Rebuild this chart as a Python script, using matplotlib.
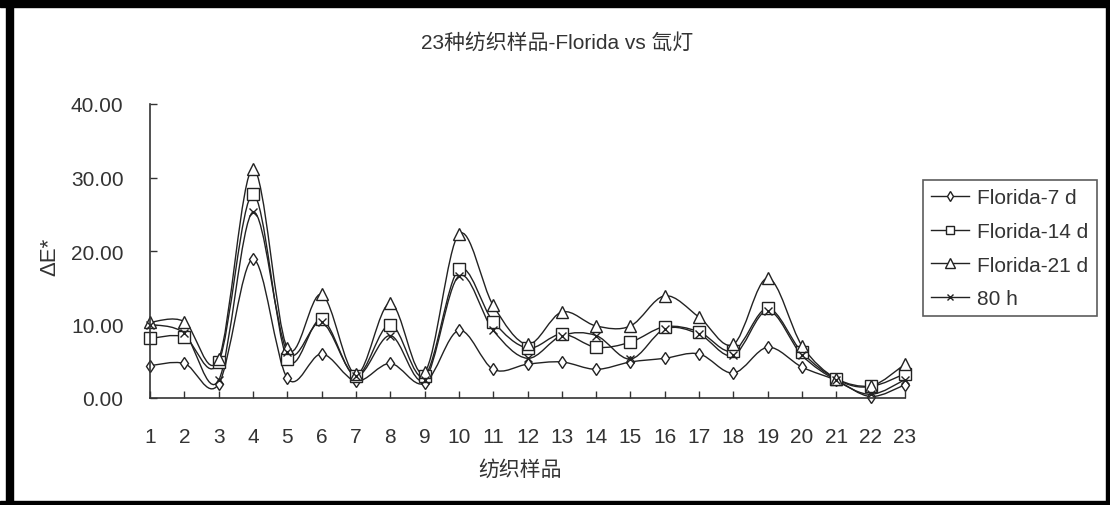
import numpy as np
import matplotlib
matplotlib.use("Agg")
import matplotlib.pyplot as plt
from matplotlib.path import Path
from matplotlib.patches import PathPatch, Rectangle

plt.rcParams['font.family'] = ['Liberation Sans', 'Noto Sans CJK SC']

# data
samples = list(range(1, 24))
florida_7d = [4.4, 4.7, 1.9, 18.9, 2.7, 6.0, 2.3, 4.7, 2.0, 9.2, 3.9, 4.6,
              4.9, 3.9, 4.9, 5.4, 6.0, 3.4, 6.9, 4.2, 2.4, 0.2, 1.8]
florida_14d = [8.1, 8.3, 4.9, 27.7, 5.3, 10.7, 3.0, 10.0, 3.0, 17.5, 10.4, 6.8,
               8.7, 6.9, 7.6, 9.7, 9.0, 6.4, 12.2, 6.2, 2.6, 1.6, 3.3]
florida_21d = [10.3, 10.4, 5.3, 31.2, 6.8, 14.1, 3.2, 12.9, 3.5, 22.3, 12.6, 7.3,
               11.7, 9.8, 9.8, 13.9, 11.0, 7.3, 16.3, 7.1, 2.6, 1.6, 4.6]
xenon_80h = [10.0, 8.8, 2.4, 25.3, 6.3, 10.3, 3.0, 8.5, 2.5, 16.6, 9.2, 5.4,
             8.5, 8.5, 5.3, 9.4, 8.7, 5.8, 11.9, 5.8, 2.4, 0.5, 2.5]
names = ['Florida-7 d', 'Florida-14 d', 'Florida-21 d', '80 h']
yticks = [0, 10, 20, 30, 40]


def smooth_path(x, y):
    # excel-style smoothed line as cubic bezier segments
    p = np.column_stack([x, y]).astype(float)
    n = len(p)
    verts = [p[0]]
    codes = [Path.MOVETO]
    for i in range(n - 1):
        p0 = p[i - 1] if i > 0 else p[i]
        p3 = p[i + 2] if i + 2 < n else p[i + 1]
        c1 = p[i] + (p[i + 1] - p0) / 6
        c2 = p[i + 1] - (p3 - p[i]) / 6
        verts += [c1, c2, p[i + 1]]
        codes += [Path.CURVE4] * 3
    return Path(verts, codes)


fig = plt.figure(figsize=(11.1, 5.06), dpi=100)
ax = fig.add_axes([150 / 1110, 1 - 399 / 506, 755 / 1110, 294 / 506])

series = [florida_7d, florida_14d, florida_21d, xenon_80h]
markers = ['d', 's', '^', 'x']
msizes = [6, 8, 9, 6]
for vals, m, ms, name in zip(series, markers, msizes, names):
    ax.add_patch(PathPatch(smooth_path(samples, vals), facecolor='none',
                           edgecolor='#222222', lw=1.0, clip_on=False))
    ax.plot(samples, vals, ls='none', marker=m, ms=ms, mfc='white',
            mec='#222222', mew=1.0, color='#222222', clip_on=False, label=name)

ax.set_xlim(1, 23)
ax.set_ylim(0, 40)
ax.set_xticks(samples)
ax.set_xticklabels([str(s) for s in samples])
ax.set_yticks(yticks)
ax.set_yticklabels(['%.2f' % v for v in yticks])
ax.tick_params(axis='both', direction='in', length=5, width=1, colors='#333333',
               labelsize=15, labelcolor='#333333')
ax.tick_params(axis='y', pad=19)
ax.tick_params(axis='x', pad=21)
for s in ['top', 'right']:
    ax.spines[s].set_visible(False)
for s in ['left', 'bottom']:
    ax.spines[s].set_color('#333333')
    ax.spines[s].set_linewidth(1.2)

fig.text(520 / 1110, 1 - 470 / 506, '纺织样品', fontsize=15, color='#333333',
         ha='center', va='center')
fig.text(50 / 1110, 1 - 257 / 506, 'ΔE*', rotation=90, fontsize=16,
         color='#333333', ha='center', va='center')
fig.text(557 / 1110, 1 - 43 / 506, '23种纺织样品-Florida vs 氙灯', fontsize=15,
         color='#333333', ha='center', va='center')

leg_handles = []
for m, ms in zip(markers, [5, 6, 7, 5]):
    leg_handles.append(plt.Line2D([], [], color='#222222', lw=1.0, marker=m,
                                  ms=ms, mfc='white', mec='#222222'))
leg = fig.legend(leg_handles, names, loc='upper left',
                 bbox_to_anchor=(923 / 1110, 1 - 181 / 506), fontsize=15,
                 frameon=True, fancybox=False, edgecolor='#333333',
                 handlelength=1.8, handletextpad=0.4, labelspacing=0.7,
                 borderpad=0.4, borderaxespad=0)
leg.get_frame().set_linewidth(1.2)
for t in leg.get_texts():
    t.set_color('#333333')

# black frame around the picture
for (x0, y0, w, h) in [(0, 498, 1110, 8), (6, 0, 7, 506),
                       (0, 0, 1110, 4), (1106, 0, 4, 506)]:
    fig.patches.append(Rectangle((x0 / 1110, y0 / 506), w / 1110, h / 506,
                                 transform=fig.transFigure, color='black',
                                 zorder=10))

fig.savefig('out.png', dpi=100)
